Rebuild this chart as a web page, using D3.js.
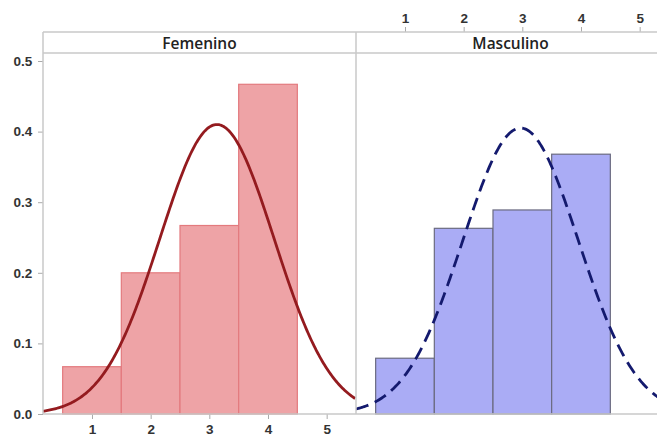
<!DOCTYPE html>
<html><head><meta charset="utf-8">
<script src="https://cdn.jsdelivr.net/npm/d3@7"></script>
<style>body{margin:0;background:#fff}svg{display:block;font-family:"Open Sans","Noto Sans",sans-serif}</style>
</head><body><svg id="c" width="657" height="439"></svg>
<script>
const panels = ["Femenino", "Masculino"];
const binStarts = [0.5, 1.5, 2.5, 3.5];
const binWidth = 1;
const femenino = [0.067, 0.200, 0.267, 0.467];
const masculino = [0.079, 0.263, 0.289, 0.368];
const fitMean = [3.13, 2.97];
const fitSd = [0.973, 0.985];
const yTicks = [0.0, 0.1, 0.2, 0.3, 0.4, 0.5];
const xTicks = [1, 2, 3, 4, 5];

const series = [femenino, masculino];
const fills = ["#eea3a6", "#aaacf5"];
const strokes = ["#e37a7e", "#6b6b80"];
const curveColors = ["#941b1f", "#141a6e"];

const svg = d3.select("#c");
const stripTop = 32, stripBot = 53, plotBot = 414;
const panelW = 313, left0 = 43;
const y = d3.scaleLinear().domain([0, 0.5]).range([plotBot, 61]);

const gridColor = "#c8c8c8";

panels.forEach((name, i) => {
  const x0 = left0 + i * panelW;
  const x = d3.scaleLinear().domain([0.165, 5.5]).range([x0, x0 + panelW]);
  const g = svg.append("g");
  const clipId = "clip" + i;
  svg.append("clipPath").attr("id", clipId).append("rect")
    .attr("x", x0).attr("y", stripBot).attr("width", panelW).attr("height", plotBot - stripBot);

  g.selectAll("rect.bar").data(series[i]).enter().append("rect")
    .attr("x", (d, j) => x(binStarts[j]))
    .attr("width", (d, j) => x(binStarts[j] + binWidth) - x(binStarts[j]))
    .attr("y", d => y(d))
    .attr("height", d => y(0) - y(d))
    .attr("fill", fills[i]).attr("stroke", strokes[i]).attr("stroke-width", 1.2);

  const [mu, sd] = [fitMean[i], fitSd[i]];
  const xs = d3.range(0.165, 5.5001, 0.02);
  const line = d3.line().x(v => x(v)).y(v => y(Math.exp(-0.5 * ((v - mu) / sd) ** 2) / (sd * Math.sqrt(2 * Math.PI))));
  g.append("path").datum(xs).attr("d", line)
    .attr("clip-path", `url(#${clipId})`)
    .attr("fill", "none").attr("stroke", curveColors[i]).attr("stroke-width", 2.8)
    .attr("stroke-dasharray", i === 1 ? "13,7" : null);

  svg.append("text").attr("x", x0 + panelW / 2 - (i === 1 ? 2 : 0)).attr("y", 49)
    .attr("text-anchor", "middle").attr("font-size", 15.5).attr("fill", "#222")
    .attr("font-weight", 600).text(name);

  if (i === 0) {
    const ax = svg.append("g").attr("transform", `translate(0,${plotBot})`)
      .call(d3.axisBottom(x).tickValues(xTicks).tickSize(5).tickFormat(d3.format("d")));
    ax.select(".domain").remove();
    ax.selectAll("line").attr("stroke", "#aaa");
    ax.selectAll("text").attr("font-size", 13.5).attr("font-weight", 600).attr("fill", "#333").attr("dy", "0.9em");
  } else {
    const ax = svg.append("g").attr("transform", `translate(0,${stripTop})`)
      .call(d3.axisTop(x).tickValues(xTicks).tickSize(5).tickFormat(d3.format("d")));
    ax.select(".domain").remove();
    ax.selectAll("line").attr("stroke", "#aaa");
    ax.selectAll("text").attr("font-size", 13.5).attr("font-weight", 600).attr("fill", "#333").attr("dy", "-0.05em");
  }
});

svg.append("line").attr("x1", left0).attr("x2", 657).attr("y1", stripTop).attr("y2", stripTop).attr("stroke", gridColor).attr("stroke-width", 1.5);
svg.append("line").attr("x1", left0).attr("x2", 657).attr("y1", stripBot).attr("y2", stripBot).attr("stroke", gridColor).attr("stroke-width", 1.5);
svg.append("line").attr("x1", left0).attr("x2", 657).attr("y1", plotBot).attr("y2", plotBot).attr("stroke", gridColor).attr("stroke-width", 1.5);
svg.append("line").attr("x1", left0 + panelW).attr("x2", left0 + panelW).attr("y1", stripTop).attr("y2", plotBot).attr("stroke", gridColor).attr("stroke-width", 1.5);

const ay = svg.append("g").attr("transform", `translate(${left0},0)`)
  .call(d3.axisLeft(y).tickValues(yTicks).tickSize(5).tickFormat(d3.format(".1f")));
ay.select(".domain").remove();
ay.selectAll("line").attr("stroke", "#aaa");
ay.selectAll("text").attr("font-size", 13.5).attr("font-weight", 600).attr("fill", "#333").attr("dx", "-0.2em");
svg.append("line").attr("x1", left0).attr("x2", left0).attr("y1", stripTop).attr("y2", plotBot).attr("stroke", gridColor).attr("stroke-width", 1.5);
</script></body></html>
